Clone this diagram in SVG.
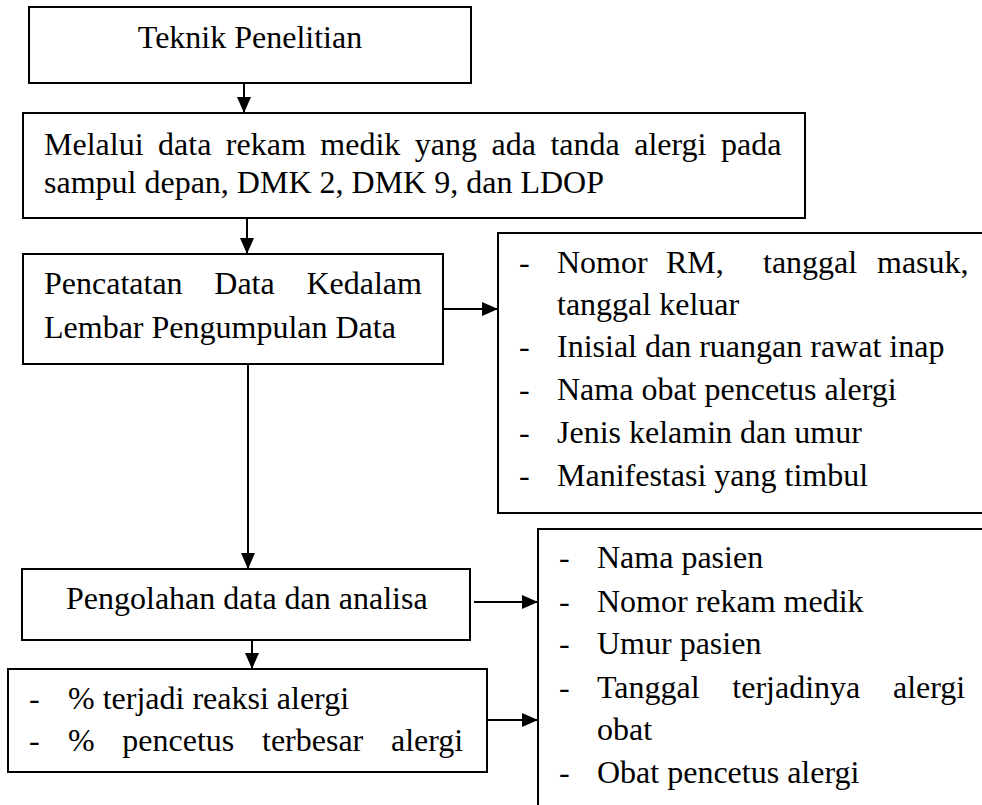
<svg xmlns="http://www.w3.org/2000/svg" width="982" height="805" viewBox="0 0 982 805">
<style>
  .box { fill: #ffffff; stroke: #000000; stroke-width: 2; }
  .t { font-size: 32px; fill: #000000; }
  .c { stroke: #000000; stroke-width: 2; fill: none; marker-end: url(#ah); }
</style>
<defs>
  <marker id="ah" markerWidth="16" markerHeight="14" refX="16" refY="7" orient="auto" markerUnits="userSpaceOnUse">
    <path d="M0,0 L16,7 L0,14 z" fill="#000000"/>
  </marker>
</defs>
<rect width="982" height="805" fill="#ffffff"/>

<g id="connectors">
  <line class="c" x1="244" y1="83" x2="244" y2="113"/>
  <line class="c" x1="247" y1="218" x2="247" y2="254"/>
  <line class="c" x1="443" y1="309" x2="498" y2="309"/>
  <line class="c" x1="248" y1="364" x2="248" y2="569"/>
  <line class="c" x1="474" y1="602" x2="538" y2="602"/>
  <line class="c" x1="252" y1="640" x2="252" y2="669"/>
  <line class="c" x1="487" y1="720" x2="538" y2="720"/>
</g>

<g font-family="Liberation Serif, Tinos, 'Times New Roman', 'DejaVu Serif', serif">
<g id="n1">
  <rect class="box" x="29" y="7" width="442" height="76"/>
  <text class="t" x="250" y="48" text-anchor="middle">Teknik Penelitian</text>
</g>

<g id="n2">
  <rect class="box" x="23" y="113" width="782" height="105"/>
  <text class="t" x="44" y="155" style="word-spacing:6.5px">Melalui data rekam medik yang ada tanda alergi pada</text>
  <text class="t" x="44" y="193">sampul depan, DMK 2, DMK 9, dan LDOP</text>
</g>

<g id="n3">
  <rect class="box" x="23" y="254" width="420" height="110"/>
  <text class="t" x="44" y="294" style="word-spacing:23.7px">Pencatatan Data Kedalam</text>
  <text class="t" x="44" y="338">Lembar Pengumpulan Data</text>
</g>

<g id="n4">
  <path class="box" d="M990,233 L498,233 L498,513 L990,513"/>
  <text class="t" x="519" y="273">-</text>
  <text class="t" x="557" y="273">Nomor</text>
  <text class="t" x="666" y="273">RM,</text>
  <text class="t" x="763" y="273">tanggal</text>
  <text class="t" x="877" y="273">masuk,</text>
  <text class="t" x="557" y="315">tanggal keluar</text>
  <text class="t" x="519" y="357">-</text>
  <text class="t" x="557" y="357">Inisial dan ruangan rawat inap</text>
  <text class="t" x="519" y="400">-</text>
  <text class="t" x="557" y="400">Nama obat pencetus alergi</text>
  <text class="t" x="519" y="443">-</text>
  <text class="t" x="557" y="443">Jenis kelamin dan umur</text>
  <text class="t" x="519" y="486">-</text>
  <text class="t" x="557" y="486">Manifestasi yang timbul</text>
</g>

<g id="n5">
  <rect class="box" x="22" y="569" width="448" height="71"/>
  <text class="t" x="66" y="609">Pengolahan data dan analisa</text>
</g>

<g id="n6">
  <rect class="box" x="8" y="669" width="479" height="103"/>
  <text class="t" x="29" y="709">-</text>
  <text class="t" x="68" y="709">% terjadi reaksi alergi</text>
  <text class="t" x="29" y="751">-</text>
  <text class="t" x="68" y="751" style="word-spacing:19.7px">% pencetus terbesar alergi</text>
</g>

<g id="n7">
  <path class="box" d="M990,529 L538,529 L538,815"/>
  <text class="t" x="559" y="568">-</text>
  <text class="t" x="597" y="568">Nama pasien</text>
  <text class="t" x="559" y="612">-</text>
  <text class="t" x="597" y="612">Nomor rekam medik</text>
  <text class="t" x="559" y="654">-</text>
  <text class="t" x="597" y="654">Umur pasien</text>
  <text class="t" x="559" y="698">-</text>
  <text class="t" x="597" y="698" style="word-spacing:24.7px">Tanggal terjadinya alergi</text>
  <text class="t" x="597" y="740">obat</text>
  <text class="t" x="559" y="783">-</text>
  <text class="t" x="597" y="783">Obat pencetus alergi</text>
</g>
</g>
</svg>
